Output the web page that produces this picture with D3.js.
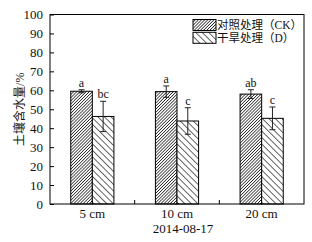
<!DOCTYPE html>
<html><head><meta charset="utf-8">
<script src="https://cdn.jsdelivr.net/npm/d3@7"></script>
<style>body{margin:0;background:#fff}svg{display:block}</style>
</head><body>
<script>
const categories = ["5 cm", "10 cm", "20 cm"];
const seriesNames = ["对照处理（CK）", "干旱处理（D）"];
const ckValues = [59.5, 59.3, 58.0];
const ckErrors = [0.8, 3.0, 2.3];
const ckLetters = ["a", "a", "ab"];
const dValues = [46.2, 43.8, 45.2];
const dErrors = [8.0, 7.0, 6.0];
const dLetters = ["bc", "c", "c"];
const yTicks = [0, 10, 20, 30, 40, 50, 60, 70, 80, 90, 100];
const xTitle = "2014-08-17";
const yTitle = "土壤含水量/%";

const W = 312, H = 242;
const m = {l: 50, r: 8, t: 14.5, b: 38};
const FONT = "'Liberation Serif', 'Noto Sans CJK SC', serif";
const svg = d3.select("body").append("svg").attr("width", W).attr("height", H);
const defs = svg.append("defs");
const p1 = defs.append("pattern").attr("id", "ck").attr("patternUnits", "userSpaceOnUse")
  .attr("width", 2.2).attr("height", 2.2).attr("patternTransform", "rotate(45)");
p1.append("rect").attr("width", 2.2).attr("height", 2.2).attr("fill", "#fff");
p1.append("line").attr("x1", 0).attr("y1", 0).attr("x2", 0).attr("y2", 2.2).attr("stroke", "#222").attr("stroke-width", 1.5);
const p2 = defs.append("pattern").attr("id", "dd").attr("patternUnits", "userSpaceOnUse")
  .attr("width", 4.6).attr("height", 4.6).attr("patternTransform", "rotate(-45)");
p2.append("rect").attr("width", 4.6).attr("height", 4.6).attr("fill", "#fff");
p2.append("line").attr("x1", 0).attr("y1", 0).attr("x2", 0).attr("y2", 4.6).attr("stroke", "#111").attr("stroke-width", 1.3);

const x = d3.scaleBand().domain(categories).range([m.l, W - m.r]).paddingInner(0.49).paddingOuter(0.245);
const sub = d3.scaleBand().domain([0, 1]).range([0, x.bandwidth()]);
const y = d3.scaleLinear().domain([0, 100]).range([H - m.b, m.t]);

const g = svg.append("g");
const series = [
  {vals: ckValues, errs: ckErrors, letters: ckLetters, fill: "url(#ck)"},
  {vals: dValues, errs: dErrors, letters: dLetters, fill: "url(#dd)"}
];
series.forEach((s, si) => {
  categories.forEach((c, i) => {
    const x0 = x(c) + sub(si), bw = sub.bandwidth();
    g.append("rect").attr("x", x0).attr("y", y(s.vals[i])).attr("width", bw)
      .attr("height", y(0) - y(s.vals[i])).attr("fill", s.fill).attr("stroke", "#000").attr("stroke-width", 1);
    const cx = x0 + bw / 2;
    const yt = y(s.vals[i] + s.errs[i]), yb = y(s.vals[i] - s.errs[i]);
    g.append("line").attr("x1", cx).attr("x2", cx).attr("y1", yt).attr("y2", yb).attr("stroke", "#222").attr("stroke-width", 1);
    g.append("line").attr("x1", cx - 3).attr("x2", cx + 3).attr("y1", yt).attr("y2", yt).attr("stroke", "#222").attr("stroke-width", 1);
    g.append("line").attr("x1", cx - 3).attr("x2", cx + 3).attr("y1", yb).attr("y2", yb).attr("stroke", "#222").attr("stroke-width", 1);
    g.append("text").attr("x", cx).attr("y", yt - 3).attr("text-anchor", "middle")
      .attr("font-family", FONT).attr("font-size", 12).attr("fill", "#111").text(s.letters[i]);
  });
});

// frame
svg.append("rect").attr("x", m.l).attr("y", m.t).attr("width", W - m.r - m.l).attr("height", H - m.b - m.t)
  .attr("fill", "none").attr("stroke", "#000").attr("stroke-width", 1);

// y axis
const ya = svg.append("g").attr("transform", `translate(${m.l},0)`)
  .call(d3.axisLeft(y).tickValues(yTicks).tickSizeInner(-4).tickSizeOuter(0).tickPadding(7));
ya.select(".domain").remove();
ya.selectAll("text").attr("font-family", FONT).attr("font-size", 13).attr("fill", "#111");

// x axis ticks between groups
const step = x.step();
const xa = svg.append("g").attr("transform", `translate(0,${H - m.b})`)
  .call(d3.axisBottom(x).tickSize(0).tickPadding(5));
xa.select(".domain").remove();
xa.selectAll("text").attr("font-family", FONT).attr("font-size", 13).attr("fill", "#111");
categories.slice(1).forEach(c => {
  const xb = x(c) - (step - x.bandwidth()) / 2;
  svg.append("line").attr("x1", xb).attr("x2", xb).attr("y1", H - m.b).attr("y2", H - m.b - 4).attr("stroke", "#000");
});

svg.append("text").attr("x", (m.l + W - m.r) / 2 + 6).attr("y", 233).attr("text-anchor", "middle")
  .attr("font-family", FONT).attr("font-size", 13).attr("fill", "#111").text(xTitle);
svg.append("text").attr("transform", `translate(24,${(m.t + H - m.b) / 2}) rotate(-90)`)
  .attr("text-anchor", "middle").attr("font-family", FONT).attr("font-size", 12).attr("fill", "#111").text(yTitle);

// legend
const fills = ["url(#ck)", "url(#dd)"];
seriesNames.forEach((n, i) => {
  const ly = 19.5 + i * 12.8;
  svg.append("rect").attr("x", 193).attr("y", ly).attr("width", 23).attr("height", 11)
    .attr("fill", fills[i]).attr("stroke", "#000").attr("stroke-width", 1);
  svg.append("text").attr("x", 217).attr("y", ly + 9.5).attr("font-family", FONT)
    .attr("font-size", 11.5).attr("fill", "#111").text(n);
});
</script>
</body></html>
